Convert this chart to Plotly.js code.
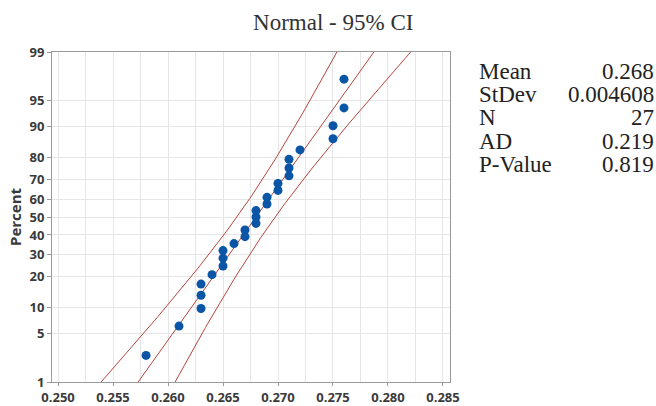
<!DOCTYPE html>
<html><head><meta charset="utf-8">
<script src="https://cdn.plot.ly/plotly-3.0.1.min.js"></script>
<style>html,body{margin:0;padding:0;background:#fff;}#chart{width:656px;height:406px;}</style>
</head><body><div id="chart"></div>
<script>
// Data values
var dataX = [0.258,0.261,0.263,0.263,0.263,0.264,0.265,0.265,0.265,0.266,0.267,0.267,0.268,0.268,0.268,0.269,0.269,0.270,0.270,0.271,0.271,0.271,0.272,0.275,0.275,0.276,0.276];
var dataPct = [2.55,6.2,9.85,13.5,17.2,20.8,24.5,28.1,31.8,35.4,39.1,42.7,46.4,50,53.6,57.3,60.9,64.6,68.2,71.9,75.5,79.2,82.8,86.5,90.1,93.8,97.4];
var statLabels = ["Mean","StDev","N","AD","P-Value"];
var statValues = ["0.268","0.004608","27","0.219","0.819"];
var meanVal = 0.268, sdVal = 0.004608, nVal = 27;
var pctTicks = [1,5,10,20,30,40,50,60,70,80,90,95,99];

function qnorm(p){
  var a=[-3.969683028665376e+01,2.209460984245205e+02,-2.759285104469687e+02,1.383577518672690e+02,-3.066479806614716e+01,2.506628277459239e+00];
  var b=[-5.447609879822406e+01,1.615858368580409e+02,-1.556989798598866e+02,6.680131188771972e+01,-1.328068155288572e+01];
  var c=[-7.784894002430293e-03,-3.223964580411365e-01,-2.400758277161838e+00,-2.549732539343734e+00,4.374664141464968e+00,2.938163982698783e+00];
  var d=[7.784695709041462e-03,3.224671290700398e-01,2.445134137142996e+00,3.754408661907416e+00];
  var pl=0.02425, q, r;
  if(p<pl){q=Math.sqrt(-2*Math.log(p));return (((((c[0]*q+c[1])*q+c[2])*q+c[3])*q+c[4])*q+c[5])/((((d[0]*q+d[1])*q+d[2])*q+d[3])*q+1);}
  if(p<=1-pl){q=p-0.5;r=q*q;return (((((a[0]*r+a[1])*r+a[2])*r+a[3])*r+a[4])*r+a[5])*q/(((((b[0]*r+b[1])*r+b[2])*r+b[3])*r+b[4])*r+1);}
  q=Math.sqrt(-2*Math.log(1-p));return -(((((c[0]*q+c[1])*q+c[2])*q+c[3])*q+c[4])*q+c[5])/((((d[0]*q+d[1])*q+d[2])*q+d[3])*q+1);
}

var ptsY = dataPct.map(function(p){return qnorm(p/100);});
var zs=[], fitX=[], loX=[], hiX=[];
for(var i=0;i<=100;i++){
  var z=-2.6+i*0.052; zs.push(z);
  var xp=meanVal+sdVal*z;
  var se=sdVal*Math.sqrt(1/nVal+z*z/(2*nVal));
  fitX.push(xp); loX.push(xp-1.96*se); hiX.push(xp+1.96*se);
}
var lineStyle={color:'#b5453f',width:1};
var traces=[
  {x:loX,y:zs,mode:'lines',line:lineStyle,hoverinfo:'skip'},
  {x:fitX,y:zs,mode:'lines',line:lineStyle,hoverinfo:'skip'},
  {x:hiX,y:zs,mode:'lines',line:lineStyle,hoverinfo:'skip'},
  {x:dataX,y:ptsY,mode:'markers',marker:{color:'#0b55a6',size:9}}
];
var zr=qnorm(0.99);
var tickFont={family:'Open Sans, sans-serif',size:13,color:'#3a3a3a',weight:'bold'};
var ann=[];
var rowY=[72,95,118,141,164];
for(var k=0;k<statLabels.length;k++){
  var py=(382-rowY[k])/330;
  ann.push({xref:'paper',yref:'paper',x:(477-52)/398,y:py,xanchor:'left',yanchor:'middle',text:statLabels[k],showarrow:false,font:{family:'Liberation Serif, serif',size:23,color:'#222'}});
  ann.push({xref:'paper',yref:'paper',x:(656-52)/398,y:py,xanchor:'right',yanchor:'middle',text:statValues[k],showarrow:false,font:{family:'Liberation Serif, serif',size:23,color:'#222'}});
}
var layout={
  width:656,height:406,showlegend:false,
  paper_bgcolor:'#fff',plot_bgcolor:'#fff',
  margin:{l:52,r:206,t:52,b:24,pad:0},
  title:{text:'Normal - 95% CI',font:{family:'Liberation Serif, serif',size:23,color:'#333'},x:0.508,xanchor:'center',xref:'container',y:1-22/406,yanchor:'middle',yref:'container'},
  xaxis:{range:[0.24945,0.28564],tickvals:[0.250,0.255,0.260,0.265,0.270,0.275,0.280,0.285],tickformat:'.3f',
    showgrid:true,gridcolor:'#e6e6e6',gridwidth:1,
    minor:{tickvals:[0.2525,0.2575,0.2625,0.2675,0.2725,0.2775,0.2825],showgrid:true,gridcolor:'#e6e6e6',ticks:''},
    showline:true,linecolor:'#9a9a9a',linewidth:1,mirror:true,ticks:'outside',ticklen:3,tickcolor:'#9a9a9a',
    tickfont:tickFont,zeroline:false,fixedrange:true},
  yaxis:{range:[-zr,zr],tickvals:pctTicks.map(function(p){return qnorm(p/100);}),ticktext:pctTicks.map(String),
    showgrid:true,gridcolor:'#e6e6e6',gridwidth:1,
    showline:true,linecolor:'#9a9a9a',linewidth:1,mirror:true,ticks:'outside',ticklen:4,tickcolor:'#9a9a9a',
    tickfont:tickFont,zeroline:false,fixedrange:true,
    title:{text:'Percent',font:{family:'Open Sans, sans-serif',size:15,color:'#3a3a3a',weight:'bold'},standoff:4}},
  annotations:ann
};
Plotly.newPlot('chart',traces,layout,{displayModeBar:false,staticPlot:true});
</script></body></html>
